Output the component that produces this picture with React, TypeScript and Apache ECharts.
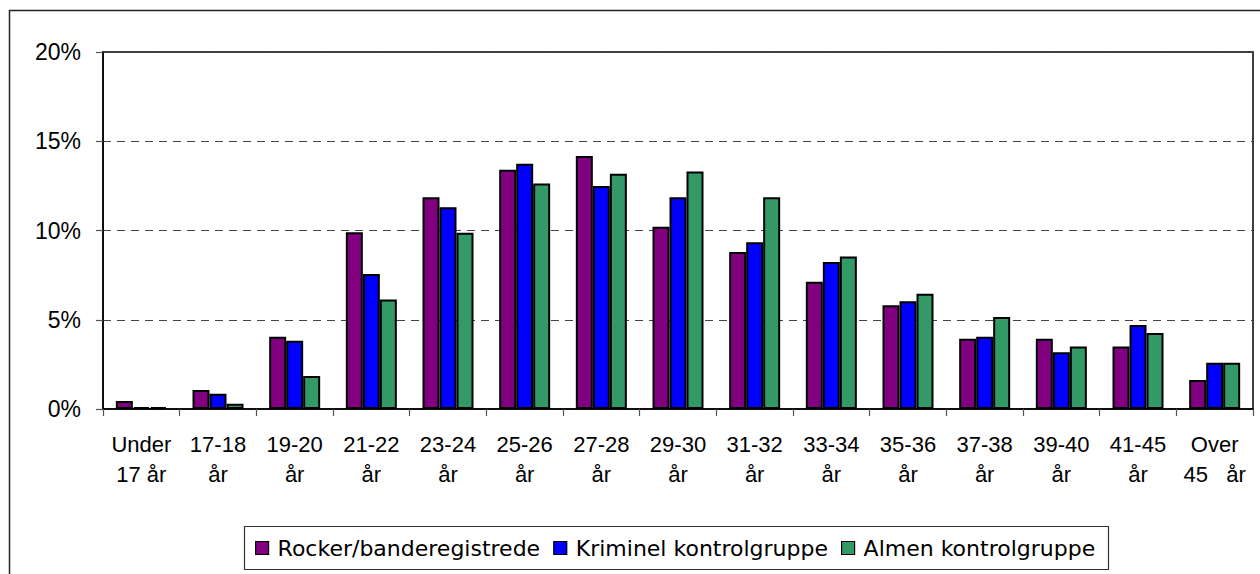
import React, { useEffect, useRef } from "react";
import * as echarts from "echarts";

const categories = [
  "Under\n17 år", "17-18\når", "19-20\når", "21-22\når", "23-24\når", "25-26\når",
  "27-28\når", "29-30\når", "31-32\når", "33-34\når", "35-36\når", "37-38\når",
  "39-40\når", "41-45\når", "Over\n45   år",
];
const seriesNames = ["Rocker/banderegistrede", "Kriminel kontrolgruppe", "Almen kontrolgruppe"];
const rocker = [0.45, 1.06, 4.05, 9.9, 11.86, 13.4, 14.17, 10.21, 8.8, 7.13, 5.81, 3.94, 3.94, 3.5, 1.62];
const kriminel = [0.1, 0.86, 3.83, 7.56, 11.3, 13.74, 12.5, 11.86, 9.34, 8.24, 6.03, 4.05, 3.18, 4.7, 2.59];
const almen = [0.1, 0.3, 1.85, 6.14, 9.88, 12.64, 13.18, 13.3, 11.86, 8.55, 6.46, 5.15, 3.5, 4.26, 2.59];
const colors = ["#800080", "#0000FF", "#339966"];

const AXIS_FONT = "'Liberation Sans', Arial, sans-serif";
const LEGEND_FONT = "'DejaVu Sans', sans-serif";

export default function App() {
  const ref = useRef<HTMLDivElement>(null);
  useEffect(() => {
    if (!ref.current) return;
    const chart = echarts.init(ref.current, null, { renderer: "svg" });
    const data = [rocker, kriminel, almen];
    chart.setOption({
      animation: false,
      backgroundColor: "#fff",
      grid: {
        left: 103, top: 52, width: 1150, height: 357,
        show: true, borderColor: "#000", borderWidth: 1.5, backgroundColor: "transparent",
      },
      xAxis: {
        type: "category",
        data: categories,
        axisLine: { lineStyle: { color: "#000", width: 1.5 } },
        axisTick: { show: true, length: 7, lineStyle: { color: "#555", width: 1.2 } },
        axisLabel: {
          interval: 0, margin: 20, color: "#000", fontFamily: AXIS_FONT, fontSize: 22, lineHeight: 30,
        },
      },
      yAxis: {
        type: "value", min: 0, max: 20, interval: 5,
        axisLine: { show: true, lineStyle: { color: "#000", width: 1.5 } },
        axisTick: { show: true, length: 7, lineStyle: { color: "#555", width: 1.2 } },
        axisLabel: {
          formatter: "{value}%", margin: 22, color: "#000", fontFamily: AXIS_FONT, fontSize: 23,
        },
        splitLine: { show: true, lineStyle: { color: "#444", type: [8, 6], width: 1.2 } },
      },
      legend: {
        left: 255, top: 537, padding: 0, itemWidth: 13, itemHeight: 13, itemGap: 13,
        icon: "rect",
        itemStyle: { borderColor: "#000", borderWidth: 1.2 },
        textStyle: { fontFamily: LEGEND_FONT, fontSize: 22, color: "#000", padding: [0, 0, 0, 4] },
        data: seriesNames,
      },
      graphic: [
        {
          type: "rect", shape: { x: 9.5, y: 10.5, width: 1300, height: 700 },
          style: { fill: "none", stroke: "#222", lineWidth: 1.5 }, silent: true, z: -1,
        },
        {
          type: "rect", shape: { x: 244.5, y: 526.5, width: 864, height: 43 },
          style: { fill: "#fff", stroke: "#333", lineWidth: 1.2 }, silent: true, z: -1,
        },
      ],
      series: seriesNames.map((name, i) => ({
        name, type: "bar", data: data[i], barWidth: 17, barGap: "0%",
        itemStyle: { color: colors[i], borderColor: "#000", borderWidth: 2 },
      })),
    });
    return () => chart.dispose();
  }, []);
  return (
    <div ref={ref} style={{ position: "fixed", left: 0, top: 0, width: 1260, height: 574 }} />
  );
}
